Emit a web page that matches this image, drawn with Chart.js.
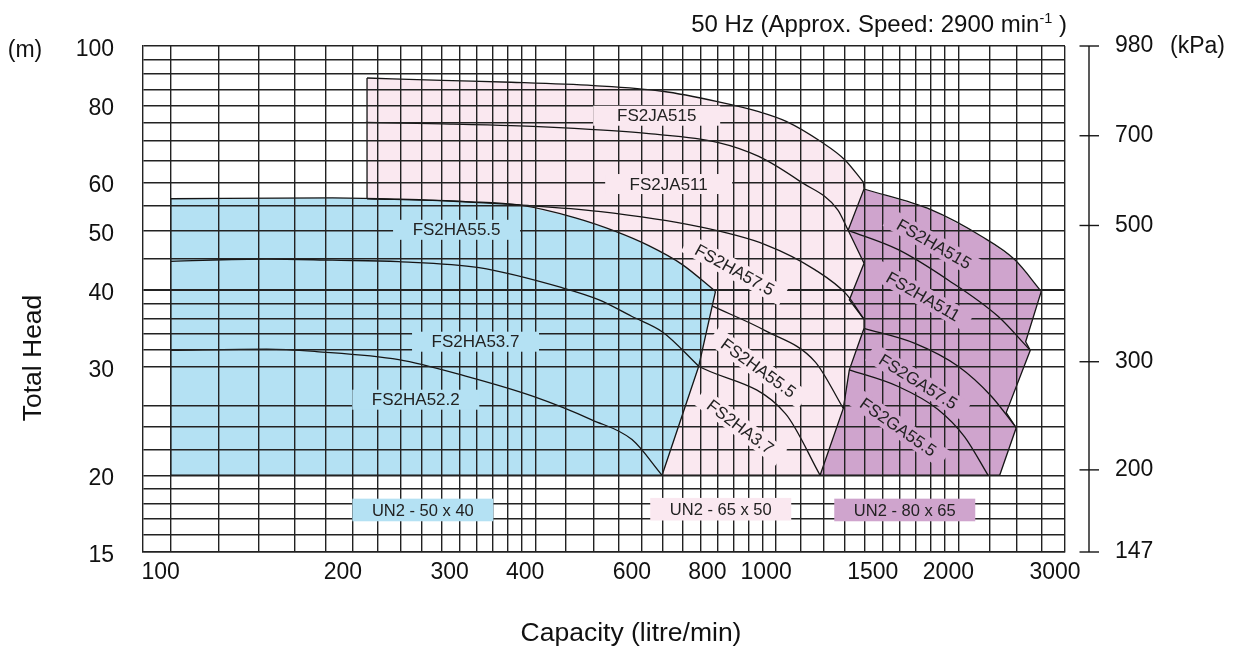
<!DOCTYPE html>
<html><head><meta charset="utf-8">
<script src="https://cdn.jsdelivr.net/npm/chart.js@4.4.1/dist/chart.umd.min.js"></script>
<style>html,body{margin:0;padding:0;background:#fff;}canvas{display:block;}</style>
</head><body>
<canvas id="c" width="1242" height="647"></canvas>
<script>
const FONT = '"Liberation Sans", Arial, Helvetica, sans-serif';

// ---- axes ----
const gridQ = [100,120,140,160,180,200,220,240,260,280,300,320,340,360,380,400,450,500,550,600,650,700,750,800,850,900,950,1000,1100,1200,1300,1400,1500,1600,1700,1800,1900,2000,2250,2500,2750,3000];
const labelQ = [100,200,300,400,600,800,1000,1500,2000,3000];
const gridH = [16,17,18,19,20,22,24,26,30,32,34,36,38,40,45,50,55,60,65,70,75,80,85,90,95,100];
const labelH = [15,20,30,40,50,60,80,100];
const kpaTicks = [147,200,300,500,700,980];

// ---- UN2-50x40 curves (Q litre/min, H m) ----
const FS2HA55_5 = [[100,56.4],[185,56.6],[238,56.3],[307,55.8],[376,55.1],[466,52.5],[543,49.9],[616,47.3],[699,44.1],[794,39.85]];
const FS2HA53_7 = [[100,44.6],[144,45.0],[185,44.8],[238,44.55],[323,43.55],[443,40.4],[510,38.6],[577,36.3],[650,34.2],[745,30.1]];
const FS2HA52_2 = [[100,31.95],[144,32.1],[174,31.8],[238,30.85],[307,29.0],[396,26.9],[497,24.6],[578,22.86],[648,20]];
// ---- UN2-65x50 curves ----
const FS2JA515 = [[211,88.7],[281,87.9],[365,87.3],[500,86.2],[649,84.4],[800,81.2],[936,78.2],[1039,75.4],[1185,69.9],[1298,65.3],[1394,60.0]];
const FS2JA511 = [[210,75.1],[281,74.7],[365,74.2],[500,73.1],[616,72.0],[800,69.7],[936,66.1],[1095,60.2],[1264,54.1],[1315,50.1]];
const FS2HA57_5 = [[211,56.4],[288,55.9],[376,55.1],[509,53.8],[745,50.8],[959,47.5],[1160,43.2],[1307,39.4],[1397,35.9]];
const FS2HA55_5b = [[785,37.7],[959,34.4],[1160,30.6],[1291,25.7]];
const FS2HA3_7 = [[745,30.1],[1036,25.2],[1182,20]];
// ---- UN2-80x65 curves ----
const FS2HA515 = [[1397,58.5],[1805,54.1],[2183,49.0],[2477,44.9],[2741,39.85]];
const FS2HA511 = [[1315,50.1],[1591,46.6],[1923,41.6],[2325,36.3],[2629,31.95]];
const FS2GA57_5 = [[1397,34.7],[1695,32.8],[1998,30.1],[2267,26.9],[2492,23.9]];
const FS2GA55_5 = [[1321,29.7],[1591,27.9],[1851,25.6],[2048,23.1],[2239,20]];

// ---- selection region outlines (straight edges) ----
const edge50x40 = [[794,39.85],[745,30.1],[648,20],[100,20],[100,56.4]];
const edge65x50Left = [[211,56.4],[211,88.7]];
const edgeShared = [[1394,60.0],[1397,58.5],[1315,50.1],[1397,44.3],[1321,38.6],[1397,35.9],[1397,34.7],[1321,29.7],[1291,25.7],[1182,20]];
const edge80x65Right = [[2741,39.85],[2583,33.0],[2629,31.95],[2399,25.3],[2492,23.9],[2340,20],[648,20]];

// ---- selection region areas (vertices) ----
const region50x40 = [[100,20],[100,56.4],[185,56.6],[238,56.3],[307,55.8],[376,55.1],[466,52.5],[543,49.9],[616,47.3],[699,44.1],[794,39.85],[745,30.1],[648,20],[100,20]];
const region65x50 = [[211,20],[211,88.7],[281,87.9],[365,87.3],[500,86.2],[649,84.4],[800,81.2],[936,78.2],[1039,75.4],[1185,69.9],[1298,65.3],[1394,60.0],[1397,58.5],[1315,50.1],[1397,44.3],[1321,38.6],[1397,35.9],[1397,34.7],[1321,29.7],[1291,25.7],[1182,20],[211,20]];
const region80x65 = [[1397,58.5],[1805,54.1],[2183,49.0],[2477,44.9],[2741,39.85],[2583,33.0],[2629,31.95],[2399,25.3],[2492,23.9],[2340,20],[1182,20],[1291,25.7],[1321,29.7],[1397,34.7],[1397,35.9],[1321,38.6],[1397,44.3],[1315,50.1],[1397,58.5]];

// ---- labels ----
const curveLabelText  = ['FS2HA55.5','FS2HA53.7','FS2HA52.2','FS2JA515','FS2JA511','FS2HA57.5','FS2HA55.5','FS2HA3.7','FS2HA515','FS2HA511','FS2GA57.5','FS2GA55.5'];
const curveLabelQ     = [296.6,318.8,254,634.9,664.5,853.8,934.9,872.6,1823,1749,1716,1591];
const curveLabelH     = [50.2,33.0,26.55,77.0,59.6,43.2,29.9,23.98,47.6,39.1,28.4,23.96];
const curveLabelAngle = [0,0,0,0,0,29,36,37,30,30,32,35];
const curveLabelGroup = [0,0,0,1,1,1,1,1,2,2,2,2];
const sizeLabelText = ['UN2 - 50 x 40','UN2 - 65 x 50','UN2 - 80 x 65'];
const sizeLabelQ = [260.9,810,1631];
const sizeLabelH = [17.56,17.61,17.56];

const COLORS = ['#b4e1f3','#fae8f0','#cfa4cd'];
const LINE = '#151515';

const xy = a => a.map(p => ({x:p[0], y:p[1]}));
const regionDs = (d,c,o) => ({data:xy(d), backgroundColor:c, borderColor:'rgba(0,0,0,0)', borderWidth:0, fill:'shape', tension:0, pointRadius:0, order:o});
const edgeDs = d => ({data:xy(d), borderColor:LINE, borderWidth:1.3, fill:false, tension:0, pointRadius:0, order:0});
const curveDs = d => ({data:xy(d), borderColor:LINE, borderWidth:1.3, fill:false, cubicInterpolationMode:'monotone', pointRadius:0, order:0});

const extras = {
  id:'extras',
  afterDraw(chart){
    const {ctx, chartArea:ca, scales} = chart;
    const x = scales.x, y = scales.y, y2 = scales.y2;
    ctx.save();
    // kPa axis line with ticks
    const ax = ca.right + 24;
    ctx.strokeStyle = LINE; ctx.lineWidth = 1.4;
    ctx.beginPath(); ctx.moveTo(ax, y2.getPixelForValue(980)); ctx.lineTo(ax, y2.getPixelForValue(147)); ctx.stroke();
    kpaTicks.forEach(v => { const py = y2.getPixelForValue(v); ctx.beginPath(); ctx.moveTo(ax-9.5,py); ctx.lineTo(ax+10,py); ctx.stroke(); });

    // curve labels
    ctx.font = '17px ' + FONT; ctx.textAlign = 'center'; ctx.textBaseline = 'middle';
    curveLabelText.forEach((t,i) => {
      const px = x.getPixelForValue(curveLabelQ[i]), py = y.getPixelForValue(curveLabelH[i]);
      ctx.save(); ctx.translate(px,py); ctx.rotate(curveLabelAngle[i]*Math.PI/180);
      const w = curveLabelAngle[i] ? ctx.measureText(t).width + 24 : 127;
      ctx.fillStyle = COLORS[curveLabelGroup[i]]; ctx.fillRect(-w/2,-10,w,20);
      ctx.fillStyle = '#222'; ctx.fillText(t,0,1);
      ctx.restore();
    });
    // size labels
    ctx.font = '16.5px ' + FONT;
    sizeLabelText.forEach((t,i) => {
      const px = x.getPixelForValue(sizeLabelQ[i]), py = y.getPixelForValue(sizeLabelH[i]);
      ctx.fillStyle = COLORS[i]; ctx.fillRect(px-70.5, py-11.3, 141, 22.6);
      ctx.fillStyle = '#222'; ctx.fillText(t, px, py+1);
    });

    // title with superscript
    ctx.fillStyle = '#111'; ctx.textAlign = 'left'; ctx.textBaseline = 'alphabetic';
    const t1 = '50 Hz (Approx. Speed: 2900 min', t2 = '-1', t3 = ' )';
    ctx.font = '24px ' + FONT; const w1 = ctx.measureText(t1).width, w3 = ctx.measureText(t3).width;
    ctx.font = '14.5px ' + FONT; const w2 = ctx.measureText(t2).width;
    let tx = ca.right + 2 - (w1 + w2 + w3);
    const base = ca.top - 14.5;
    ctx.font = '24px ' + FONT; ctx.fillText(t1, tx, base); tx += w1;
    ctx.font = '14.5px ' + FONT; ctx.fillText(t2, tx, base - 9); tx += w2;
    ctx.font = '24px ' + FONT; ctx.fillText(t3, tx, base);

    // units
    ctx.font = '23px ' + FONT;
    ctx.textBaseline = 'middle'; ctx.textAlign = 'center';
    ctx.fillText('(m)', 25, y.getPixelForValue(100) + 5);
    ctx.fillText('(kPa)', 1197.5, y2.getPixelForValue(980) + 1);

    // axis titles
    ctx.font = '26.5px ' + FONT;
    ctx.fillText('Capacity (litre/min)', 631, 634);
    ctx.save(); ctx.translate(34, 358); ctx.rotate(-Math.PI/2); ctx.fillText('Total Head', 0, 0); ctx.restore();
    ctx.restore();
  }
};

const tickFont = {family: FONT, size: 23};
new Chart(document.getElementById('c'), {
  type: 'line',
  data: { datasets: [
    curveDs(FS2HA55_5), curveDs(FS2HA53_7), curveDs(FS2HA52_2),
    curveDs(FS2JA515), curveDs(FS2JA511), curveDs(FS2HA57_5), curveDs(FS2HA55_5b), curveDs(FS2HA3_7),
    curveDs(FS2HA515), curveDs(FS2HA511), curveDs(FS2GA57_5), curveDs(FS2GA55_5),
    edgeDs(edge50x40), edgeDs(edge65x50Left), edgeDs(edgeShared), edgeDs(edge80x65Right),
    regionDs(region50x40, COLORS[0], 1),
    regionDs(region80x65, COLORS[2], 2),
    regionDs(region65x50, COLORS[1], 3)
  ]},
  options: {
    responsive: false, animation: false, devicePixelRatio: 1,
    layout: { padding: { top: 46, left: 0, right: 0, bottom: 0 } },
    plugins: { legend: {display:false}, tooltip: {enabled:false}, title: {display:false} },
    scales: {
      x: { type:'logarithmic', min:90, max:3000, position:'bottom',
        afterBuildTicks: s => { s.ticks = gridQ.map(v => ({value:v})); },
        afterFit: s => { s.height = 95; s.paddingLeft = 0; s.paddingRight = 0; },
        grid: { color:'#222', lineWidth:1.4, drawTicks:false, z:1 },
        border: { display:true, color:'#222', width:1.4, z:1 },
        ticks: { autoSkip:false, maxRotation:0, minRotation:0, padding:7, labelOffset:-10, color:'#111', font:tickFont,
          callback: v => labelQ.includes(v) ? String(v) : '' } },
      y: { type:'logarithmic', min:15, max:100, position:'left',
        afterBuildTicks: s => { s.ticks = [15].concat(gridH).map(v => ({value:v})); },
        afterFit: s => { s.width = 143; s.paddingTop = 0; s.paddingBottom = 0; },
        grid: { color:'#222', lineWidth: c => (c.tick && c.tick.value === 40) ? 2 : 1.4, drawTicks:false, z:1 },
        border: { display:true, color:'#222', width:1.4, z:1 },
        ticks: { autoSkip:false, padding:29, labelOffset:3.5, color:'#111', font:tickFont,
          callback: v => labelH.includes(v) ? String(v) : '' } },
      y2: { type:'logarithmic', min:147, max:980, position:'right',
        afterBuildTicks: s => { s.ticks = kpaTicks.map(v => ({value:v})); },
        afterFit: s => { s.width = 177; s.paddingTop = 0; s.paddingBottom = 0; },
        grid: { display:false, drawTicks:false },
        border: { display:false },
        ticks: { autoSkip:false, padding:50, color:'#111', font:tickFont, callback: v => String(v) } }
    }
  },
  plugins: [extras]
});
</script>
</body></html>
